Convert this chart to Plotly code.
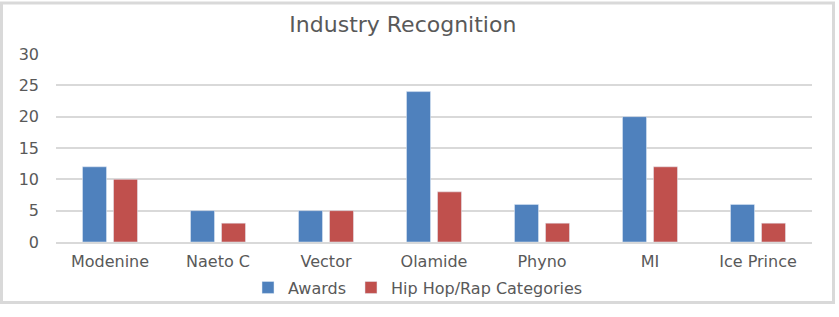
import plotly.graph_objects as go

categories = ["Modenine", "Naeto C", "Vector", "Olamide", "Phyno", "MI", "Ice Prince"]
awards = [12, 5, 5, 24, 6, 20, 6]
hiphop = [10, 3, 5, 8, 3, 12, 3]
y_ticks = [0, 5, 10, 15, 20, 25, 30]

W, H = 839, 317
ml, mr, mt, mb = 56, 27, 54, 69
pw, ph = W - ml - mr, H - mt - mb

def px_x(p):
    return (p - ml) / pw

def px_y(p):
    return (H - mb - p) / ph

fig = go.Figure()
fig.add_trace(go.Bar(name="Awards", x=categories, y=awards, marker_color="#4F81BD"))
fig.add_trace(go.Bar(name="Hip Hop/Rap Categories", x=categories, y=hiphop, marker_color="#C0504D"))

font_fam = "DejaVu Sans, sans-serif"
grey = "#595959"
fig.update_layout(
    width=W, height=H,
    margin=dict(l=ml, r=mr, t=mt, b=mb),
    paper_bgcolor="white", plot_bgcolor="white",
    barmode="group", bargap=0.426, bargroupgap=0.226,
    title=dict(text="Industry Recognition", x=px_x(419), xanchor="center", y=1 - 24.5 / H, yanchor="middle",
               font=dict(family=font_fam, size=22, color=grey)),
    font=dict(family=font_fam, size=15, color=grey),
    legend=dict(orientation="h", x=px_x(418), xanchor="center", y=px_y(295), yanchor="middle",
                font=dict(size=16, color=grey), traceorder="normal", itemwidth=30,
                bgcolor="rgba(0,0,0,0)"),
    showlegend=True,
    xaxis=dict(showgrid=False, showline=True, linecolor="#D9D9D9", linewidth=1.5, ticks="",
               ticklabelstandoff=4, tickfont=dict(size=16, color=grey)),
    yaxis=dict(range=[0, 30], tickvals=y_ticks, showgrid=True, gridcolor="#D9D9D9", gridwidth=1.5,
               zeroline=False, showline=False, ticks="", ticklabelstandoff=16,
               tickfont=dict(size=16, color=grey)),
    shapes=[dict(type="rect", xref="paper", yref="paper",
                 x0=px_x(1.5), x1=px_x(833.5), y0=px_y(310.5), y1=px_y(1.5),
                 line=dict(color="#D9D9D9", width=3), fillcolor="rgba(0,0,0,0)", layer="below")],
)

fig.write_html("out.html")
